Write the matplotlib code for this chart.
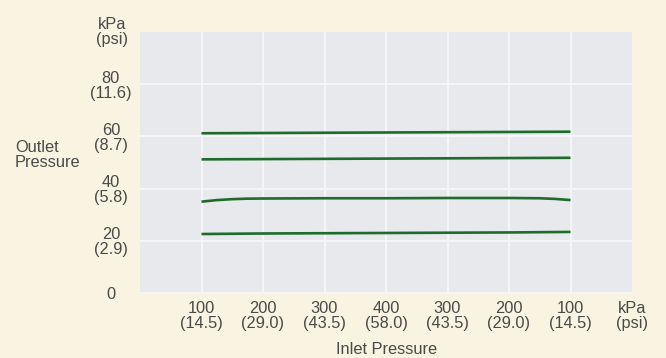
import numpy as np
import matplotlib
matplotlib.use('Agg')
import matplotlib.pyplot as plt
from matplotlib.transforms import offset_copy

# Dados ----------------------------------------------------------------------
x_pos = [1, 2, 3, 4, 5, 6, 7]
linha_1 = [61.2, 61.3, 61.4, 61.5, 61.6, 61.7, 61.8]
linha_2 = [51.2, 51.3, 51.4, 51.5, 51.6, 51.7, 51.8]
linha_4 = [22.6, 22.8, 22.9, 23.0, 23.1, 23.2, 23.4]
# a linha 3 tem curvatura nas pontas, entao tem mais pontos
x_pos_3 = [1, 1.25, 1.5, 1.75, 2, 3, 4, 5, 6, 6.5, 6.75, 7]
linha_3 = [35.0, 35.6, 35.95, 36.15, 36.2, 36.3, 36.3, 36.4, 36.4, 36.3, 36.05, 35.6]

x_ticks = [1, 2, 3, 4, 5, 6, 7]
x_labels = ['100\n(14.5)', '200\n(29.0)', '300\n(43.5)', '400\n(58.0)',
            '300\n(43.5)', '200\n(29.0)', '100\n(14.5)']
y_ticks = [0, 20, 40, 60, 80]
y_labels = ['0', '20\n(2.9)', '40\n(5.8)', '60\n(8.7)', '80\n(11.6)']

# Estilo ---------------------------------------------------------------------
plt.rcParams['font.family'] = ['Liberation Sans', 'DejaVu Sans']
cor_texto = '#4a4a48'
cor_linha = '#1e6b2c'
fs = 11.8
ls = 1.0

fig = plt.figure(figsize=(6.66, 3.58), dpi=100)
fig.patch.set_facecolor('#f8f4e1')
ax = fig.add_axes([140/666, 65/358, 492/666, 261/358])
ax.set_facecolor('#e8e9ed')

for xx, y in [(x_pos, linha_1), (x_pos, linha_2), (x_pos_3, linha_3), (x_pos, linha_4)]:
    ax.plot(xx, y, color=cor_linha, lw=1.9, solid_capstyle='butt',
            solid_joinstyle='round', zorder=3)

ax.set_xlim(0, 8)
ax.set_ylim(0, 100)
ax.set_xticks(x_ticks)
ax.set_xticklabels(x_labels, fontsize=fs, color=cor_texto, linespacing=ls)
ax.set_yticks(y_ticks)
ax.set_yticklabels(y_labels, fontsize=fs, color=cor_texto, linespacing=ls,
                   ha='center', multialignment='center')
ax.tick_params(axis='x', length=0, pad=6)
ax.tick_params(axis='y', length=0, pad=21)
ax.grid(True, color='#f7f7f9', lw=1.3)
ax.set_axisbelow(True)
for s in ax.spines.values():
    s.set_visible(False)

# unidades nas pontas dos eixos
ax.text(-28/61.5, 100, 'kPa\n(psi)', fontsize=fs, color=cor_texto, ha='center',
        va='center', linespacing=ls, clip_on=False)
ax.text(8, 0, 'kPa\n(psi)', fontsize=fs, color=cor_texto, ha='center', va='top',
        linespacing=ls, clip_on=False,
        transform=offset_copy(ax.transData, fig=fig, y=-8, units='dots'))

fig.text(15/666, 1 - 155/358, 'Outlet\nPressure', fontsize=fs, color=cor_texto,
         ha='left', va='center', linespacing=ls)
fig.text(387/666, 1 - 350/358, 'Inlet Pressure', fontsize=fs, color=cor_texto,
         ha='center', va='center')

fig.savefig('out.png', dpi=100, facecolor=fig.get_facecolor())
